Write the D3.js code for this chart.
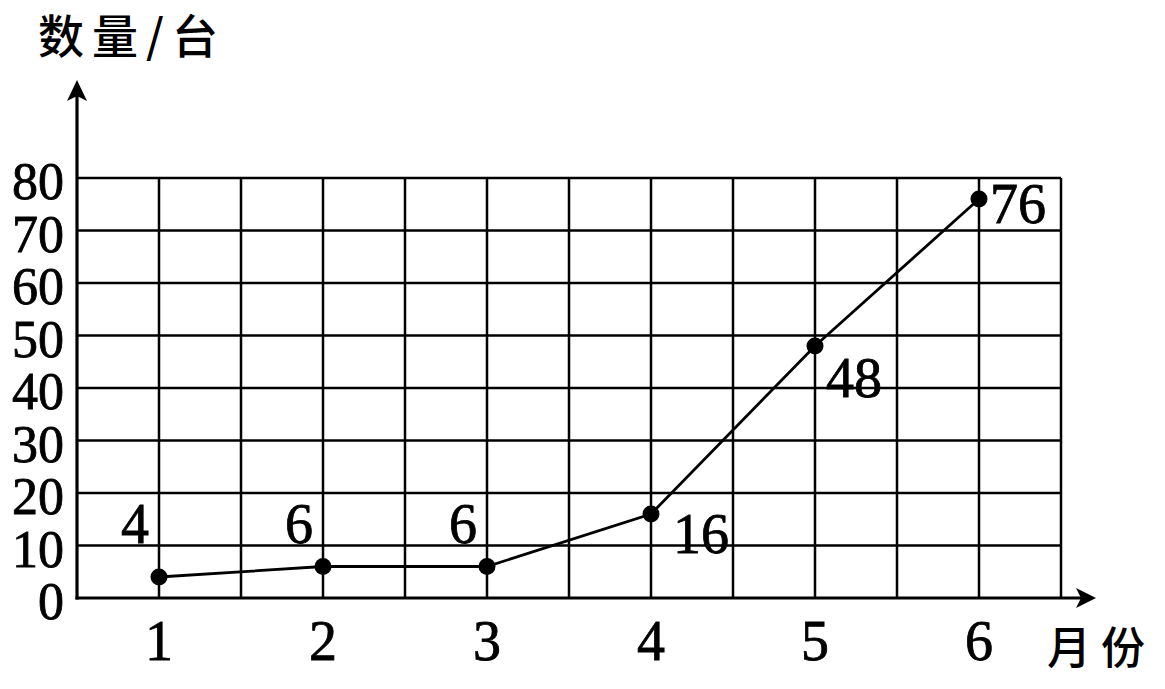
<!DOCTYPE html>
<html><head><meta charset="utf-8">
<script src="https://cdn.jsdelivr.net/npm/d3@7"></script>
<style>body{margin:0;background:#fff}</style>
</head><body>
<svg id="c" width="1165" height="689"></svg>
<script>
const months = [1, 2, 3, 4, 5, 6];
const values = [4, 6, 6, 16, 48, 76];
const yTicks = [0, 10, 20, 30, 40, 50, 60, 70, 80];
const yTitle = "数量/台";
const xTitle = "月份";

const svg = d3.select("#c");
const x = d3.scaleLinear().domain([0.5, 6.5]).range([77, 1061]);
const y = d3.scaleLinear().domain([0, 80]).range([598, 178]);
const serif = "'Liberation Serif', 'DejaVu Serif', serif";
const cjk = "'Noto Sans CJK SC', sans-serif";

// grid
const xs = d3.range(1, 13).map(i => 0.5 + i * 0.5);
svg.append("g").selectAll("line").data(xs).join("line")
  .attr("x1", d => x(d)).attr("x2", d => x(d))
  .attr("y1", y(0)).attr("y2", y(80))
  .attr("stroke", "#000").attr("stroke-width", 2.5);
svg.append("g").selectAll("line").data(yTicks.slice(1)).join("line")
  .attr("x1", x(0.5)).attr("x2", x(6.5))
  .attr("y1", d => y(d)).attr("y2", d => y(d))
  .attr("stroke", "#000").attr("stroke-width", 2.5);

// axes
svg.append("line").attr("x1", x(0.5)).attr("x2", x(0.5)).attr("y1", y(0) + 1.5).attr("y2", 95)
  .attr("stroke", "#000").attr("stroke-width", 3.2);
svg.append("line").attr("x1", x(0.5) - 1.5).attr("x2", 1085).attr("y1", y(0)).attr("y2", y(0))
  .attr("stroke", "#000").attr("stroke-width", 3.2);
svg.append("path").attr("d", `M${x(0.5)},80 L${x(0.5) - 10},101 L${x(0.5)},96 L${x(0.5) + 10},101 Z`).attr("fill", "#000");
svg.append("path").attr("d", `M1096,${y(0)} L1076,${y(0) - 10} L1081,${y(0)} L1076,${y(0) + 10} Z`).attr("fill", "#000");

const textStyle = (sel, size) => sel.attr("font-family", serif).attr("font-size", size)
  .attr("fill", "#000").attr("stroke", "#000").attr("stroke-width", 0.8);

// y tick labels
svg.append("g").selectAll("text").data(yTicks).join("text")
  .attr("x", 64).attr("y", d => y(d) + 21)
  .attr("text-anchor", "end").call(textStyle, 52)
  .text(d => d);

// x tick labels
svg.append("g").selectAll("text").data(months).join("text")
  .attr("x", d => x(d)).attr("y", 660)
  .attr("text-anchor", "middle").call(textStyle, 56)
  .text(d => d);

// titles
svg.append("text").attr("x", 38).attr("y", 53).attr("font-family", cjk).attr("font-size", 46)
  .attr("font-weight", 500).attr("letter-spacing", 8).text(yTitle);
svg.append("text").attr("x", 1047).attr("y", 664).attr("font-family", cjk).attr("font-size", 44)
  .attr("font-weight", 500).attr("letter-spacing", 10).text(xTitle);

// line
const pts = months.map((m, i) => [m, values[i]]);
svg.append("path").datum(pts)
  .attr("d", d3.line().x(d => x(d[0])).y(d => y(d[1])))
  .attr("fill", "none").attr("stroke", "#000").attr("stroke-width", 2.8);
svg.append("g").selectAll("circle").data(pts).join("circle")
  .attr("cx", d => x(d[0])).attr("cy", d => y(d[1])).attr("r", 8.5).attr("fill", "#000");

// value labels
svg.append("g").selectAll("text").data(pts).join("text")
  .call(textStyle, 56)
  .attr("text-anchor", (d, i) => i < 3 ? "end" : "start")
  .attr("x", (d, i) => i < 3 ? x(d[0]) - 10 : x(d[0]) + (i === 3 ? 22 : 11))
  .attr("y", (d, i) => i < 3 ? y(10) - 3 : y(d[1]) + (i === 3 ? 39 : i === 4 ? 51 : 24))
  .text(d => d[1]);
</script>
</body></html>
